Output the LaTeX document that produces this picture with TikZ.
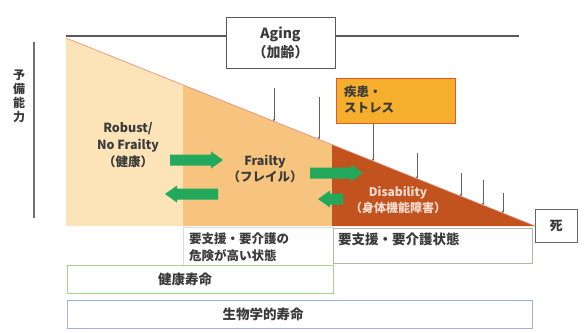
\documentclass[tikz,border=0pt]{standalone}
\usepackage{fontspec}
\setmainfont{Noto Sans CJK JP}
\usetikzlibrary{arrows.meta}
\definecolor{txt}{HTML}{3A3A3A}
\definecolor{robustc}{HTML}{FCE4B8}
\definecolor{frailc}{HTML}{F7C47F}
\definecolor{disc}{HTML}{C2531F}
\definecolor{stressf}{HTML}{F6AE2D}
\definecolor{stressd}{HTML}{E4572E}
\definecolor{garc}{HTML}{22A95C}
\definecolor{kgreen}{HTML}{A6D38A}
\definecolor{kblue}{HTML}{9DB3DC}
\definecolor{kgray}{HTML}{AEB8A2}
\definecolor{klight}{HTML}{D6DCDF}
\definecolor{slopec}{HTML}{E48A72}
\definecolor{distxt}{HTML}{F8DCCF}
\newcommand\rgarrow[3]{\fill[garc] (#1,#3-5.5) -- (#2-12,#3-5.5) -- (#2-12,#3-8.5) -- (#2,#3) -- (#2-12,#3+8.5) -- (#2-12,#3+5.5) -- (#1,#3+5.5) -- cycle;}
\newcommand\lgarrow[3]{\fill[garc] (#2,#3-5.5) -- (#1+12,#3-5.5) -- (#1+12,#3-8.5) -- (#1,#3) -- (#1+12,#3+8.5) -- (#1+12,#3+5.5) -- (#2,#3+5.5) -- cycle;}
\begin{document}
\begin{tikzpicture}[x=1pt,y=-1pt,
  font=\fontsize{13}{16}\selectfont\bfseries, text=txt,
  jbox/.style={draw, rectangle, inner sep=0pt, line width=1pt},
  tick/.style={draw=txt!80, line width=0.6pt, -{Stealth[length=2.5pt,width=2.5pt]}},
  lbl/.style={align=center, inner sep=0pt}]
\useasboundingbox (0,0) rectangle (585,332);
% regions
\fill[robustc] (66,38) -- (183,84.9) -- (183,226) -- (66,226) -- cycle;
\fill[frailc] (183,84.9) -- (332,144.6) -- (332,226) -- (183,226) -- cycle;
\fill[disc] (332,144.6) -- (535,226) -- (332,226) -- cycle;
\draw[slopec, line width=0.6pt] (66,38) -- (535,226);
% axis
\draw[black!55, line width=1.5pt] (34,42) -- (34,218);
\node[lbl, font=\fontsize{12}{14}\selectfont\bfseries] (reserve) at (19,96) {予\\備\\能\\力};
% aging
\node[jbox, draw=black!65, minimum width=109, minimum height=51, lbl, font=\fontsize{14}{19}\selectfont\bfseries] (aging) at (280.5,42.5) {Aging\\（加齢）};
\coordinate (agl) at (66,36);
\coordinate (agr) at (519,36);
\draw[black!65, line width=1.2pt] (agl) -- (aging.west |- agl);
\draw[black!65, line width=1.2pt] (aging.east |- agr) -- (agr);
% stress
\node[jbox, fill=stressf, draw=stressd, minimum width=119, minimum height=45] (stress) at (395.5,100.5) {};
\node[anchor=west, align=left, inner sep=0pt, font=\fontsize{12.5}{16}\selectfont\bfseries] (stresst) at (344,100) {疾患・\\ストレス};
% ticks
\draw[tick] (274,88) -- (274,121.4);
\draw[tick] (319,97) -- (319,139.4);
\draw[tick] (stress.south -| 373,0) -- (373,161.1);
\draw[tick] (417,153) -- (417,178.7);
\draw[tick] (461,173) -- (461,196.3);
\draw[tick] (483,180) -- (483,205.2);
\draw[tick] (503,193) -- (503,213.2);
% green arrows
\rgarrow{170}{223}{160}
\lgarrow{165}{218}{194}
\rgarrow{310}{363}{173}
\lgarrow{318}{343}{199}
% texts in regions
\node[lbl, font=\fontsize{12.5}{17}\selectfont\bfseries] (robust) at (128,145) {Robust/\\No Frailty\\（健康）};
\node[lbl, font=\fontsize{12.5}{16}\selectfont\bfseries] (frailty) at (265,169) {Frailty\\（フレイル）};
\node[lbl, text=distxt, font=\fontsize{12}{16}\selectfont\bfseries] (disab) at (398,200) {Disability\\（身体機能障害）};
% death
\node[jbox, draw=black!60, minimum width=42, minimum height=33] (death) at (556,225.5) {死};
% bottom boxes
\node[jbox, draw=klight, line width=0.6pt, minimum width=150, minimum height=38] (risk) at (258,246) {};
\node[anchor=west, align=left, inner sep=0pt, font=\fontsize{12.5}{17}\selectfont\bfseries] (riskt) at (189,247.5) {要支援・要介護の\\危険が高い状態};
\node[jbox, draw=kgray, minimum width=199, minimum height=35] (care) at (432.5,245.5) {};
\node[anchor=west, inner sep=0pt, font=\fontsize{13.5}{16}\selectfont\bfseries] (caret) at (338,239) {要支援・要介護状態};
\node[jbox, draw=kgreen, minimum width=266, minimum height=28] (healthy) at (200,279) {};
\node[inner sep=0pt, font=\fontsize{13.5}{16}\selectfont\bfseries] (healthyt) at (185,279) {健康寿命};
\node[jbox, draw=kblue, minimum width=465, minimum height=28] (bio) at (299.5,314) {};
\node[inner sep=0pt, font=\fontsize{13.5}{16}\selectfont\bfseries] (biot) at (263,314) {生物学的寿命};
\end{tikzpicture}
\end{document}
